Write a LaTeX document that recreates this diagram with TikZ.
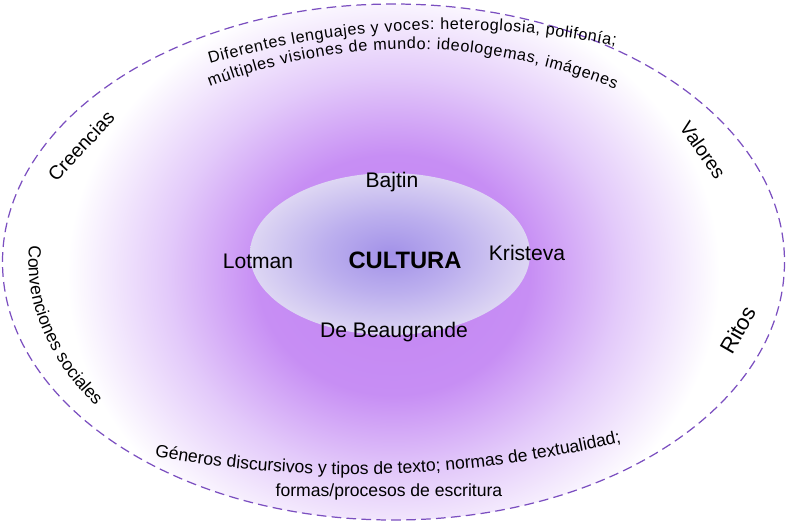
\documentclass[tikz,border=0pt]{standalone}
\usepackage{fontspec}
\setmainfont{Liberation Sans}
\usepackage{tikz}
\usetikzlibrary{decorations.text}
\definecolor{rimline}{HTML}{7B4FC0}
\definecolor{glowa}{HTML}{C385F2}
\definecolor{glowb}{HTML}{C78EF4}
\definecolor{glowc}{HTML}{E3CAFA}
\definecolor{corea}{HTML}{A291E8}
\definecolor{coreb}{HTML}{BCAFEE}
\definecolor{corec}{HTML}{DDD6F3}
\pgfdeclareradialshading{glow}{\pgfpoint{0bp}{0bp}}{color(0bp)=(glowa); color(10bp)=(glowb); color(16.7bp)=(glowc); color(24bp)=(white); color(50bp)=(white)}
\pgfdeclareradialshading{core}{\pgfpoint{0bp}{0bp}}{color(0bp)=(corea); color(12bp)=(coreb); color(25bp)=(corec); color(50bp)=(corec)}
\newcommand\topf{\fontsize{9.2}{11}\selectfont}
\newcommand\botf{\fontsize{10}{12}\selectfont}

\begin{document}
\begin{tikzpicture}[x=0.02cm,y=-0.02cm,
 rim/.style={draw=rimline,line width=0.7pt,dash pattern=on 5.5pt off 3pt},
 nm/.style={anchor=base,font=\fontsize{12}{14}\selectfont},
 side/.style={font=\fontsize{11}{13}\selectfont},
 arctxt/.style={decorate,decoration={text along path,text align=center,text={#1}}},
 fittxt/.style={decorate,decoration={text along path,text align=fit to path,text={#1}}}]
 \useasboundingbox (0,0) rectangle (787,522);
 \fill[white] (393.5,262) ellipse [x radius=391,y radius=258];
 \begin{scope}
  \clip (393.5,262) ellipse [x radius=391,y radius=258];
  \shade[shading=glow] (393.5,275) ellipse [x radius=340,y radius=300];
 \end{scope}
 \draw[rim] (393.5,262) ellipse [x radius=391,y radius=258];
 \shade[shading=core] (390,254) ellipse [x radius=140,y radius=81];
 % names round the core
 \node[nm] (bajtin) at (392,187) {Bajtin};
 \node[nm] (lotman) at (258,268) {Lotman};
 \node[nm,font=\fontsize{13.5}{16}\selectfont\bfseries] (cultura) at (405,268) {CULTURA};
 \node[nm] (kristeva) at (527,260) {Kristeva};
 \node[nm] (beaugrande) at (394,337) {De Beaugrande};
 % words along the rim
 \node[side,rotate=47] (creencias) at (81,146) {Creencias};
 \node[side,rotate=-55] (valores) at (703,150) {Valores};
 \node[side,rotate=60,font=\fontsize{12.5}{15}\selectfont] (ritos) at (738,330) {Ritos};
 \path[arctxt={|\botf|Convenciones sociales}] (43.57,190.46) arc [start angle=196.5,end angle=134,x radius=366,y radius=250];
 \path[fittxt={|\topf|Diferentes lenguajes y voces: heteroglosia, polifonía;}] (210,63.8) .. controls (345,25.2) and (480,19.2) .. (615,45.7);
 \path[fittxt={|\topf|múltiples visiones de mundo: ideologemas, imágenes}] (210,87) .. controls (345,35.7) and (480,36.3) .. (615,88.9);
 \path[arctxt={|\botf|Géneros discursivos y tipos de texto; normas de textualidad;}] (120,449.5) .. controls (298.3,487.4) and (476.7,481.9) .. (655,433.2);
 \node[anchor=base,font=\botf] (formas) at (389,496) {formas/procesos de escritura};
\end{tikzpicture}
\end{document}
